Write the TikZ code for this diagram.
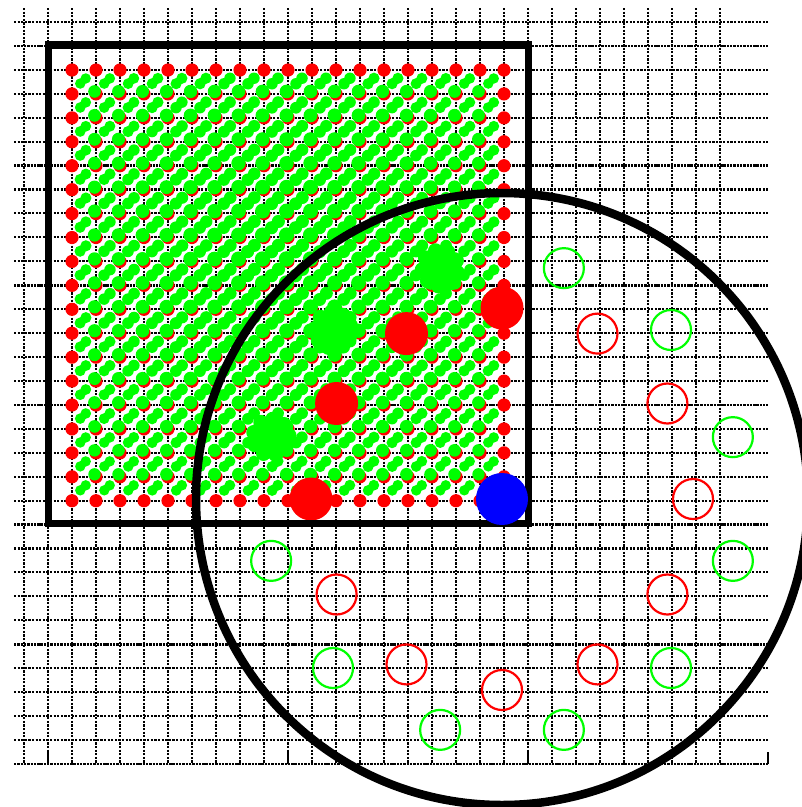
\documentclass[tikz,border=0pt]{standalone}
\definecolor{rd}{RGB}{255,0,0}
\definecolor{gn}{RGB}{0,255,0}
\definecolor{bl}{RGB}{0,0,255}
\begin{document}
\begin{tikzpicture}[x=1pt,y=-1pt,
  gridline/.style={line width=2.1pt, dash pattern=on 2.2pt off 1.4pt},
  boldgrid/.style={line width=2.7pt, dash pattern=on 2.4pt off 0.9pt},
  tickline/.style={line width=2pt},
  frame/.style={line width=7.5pt},
  ring/.style={line width=8.5pt},
  opnred/.style={draw=rd, line width=2.2pt},
  opngreen/.style={draw=gn, line width=2.2pt}]
\useasboundingbox (0,0) rectangle (802,807);
\clip (0,0) rectangle (802,807);
\coordinate (c) at (502,499);
% grid
\foreach \i in {0,...,29} {
  \draw[gridline] ({24+24*\i},8) -- ({24+24*\i},764);
}
\foreach \k in {0,...,30} {
  \pgfmathtruncatemacro{\m}{mod(\k,5)}
  \ifnum\m=1
    \draw[boldgrid] (14,{22+23.93*\k}) -- (768,{22+23.93*\k});
  \else
    \draw[gridline] (14,{22+23.93*\k}) -- (768,{22+23.93*\k});
  \fi
}
\draw[boldgrid] (14,764) -- (768,764);
\foreach \x in {48,288,528,768} { \draw[tickline] (\x,752) -- (\x,764); }
% red lattice
\foreach \i in {0,...,18} {
  \foreach \j in {0,...,18} {
    \fill[rd] ({72+24*\i},{70+23.93*\j}) circle (6.6);
  }
}
% green lattice dots
\foreach \i in {1,...,17} {
  \foreach \j in {1,...,17} {
    \pgfmathsetmacro{\px}{72+24*\i}
    \pgfmathsetmacro{\py}{70+23.93*\j}
    \pgfmathsetmacro{\f}{1+0.25*max(0,1-veclen(\px-290,\py-260)/280)}
    \fill[gn] ({\px-1.5},{\py-2.5}) circle ({6.2*\f});
  }
}
% green cell blobs
\foreach \i in {0,...,17} {
  \foreach \j in {0,...,17} {
    \pgfmathsetmacro{\px}{83+24*\i}
    \pgfmathsetmacro{\py}{81+23.93*\j}
    \pgfmathsetmacro{\f}{1+0.3*max(0,1-veclen(\px-290,\py-260)/280)}
    \fill[gn] ({\px-2.7*\f},{\py+2.5*\f}) circle ({5.2*\f})
              ({\px+2.7*\f},{\py-2.5*\f}) circle ({5.2*\f});
  }
}
% large filled dots
\foreach \a in {90,120,150,180} {
  \fill[rd] ({502+191*cos(\a)},{499-191*sin(\a)}) circle (21.5);
}
\foreach \a in {105,135,165} {
  \pgfmathsetmacro{\gx}{502+239*cos(\a)}
  \pgfmathsetmacro{\gy}{499-239*sin(\a)}
  \fill[gn] (\gx,\gy) circle (21.5);
  \foreach \b in {0,40,...,320} {
    \fill[gn] ({\gx+18*cos(\b+\a)},{\gy-18*sin(\b+\a)}) circle (7.5);
  }
}
% open circles
\foreach \a in {210,240,270,300,330,0,30,60} {
  \draw[opnred] ({502+191*cos(\a)},{499-191*sin(\a)}) circle (20);
}
\foreach \a in {195,225,255,285,315,345,15,45,75} {
  \draw[opngreen] ({502+239*cos(\a)},{499-239*sin(\a)}) circle (20);
}
% frame square and ring
\draw[frame] (48.5,45) rectangle (528.5,523.5);
\draw[ring] (c) circle (306);
\fill[bl] (c) circle (26);
\end{tikzpicture}
\end{document}
